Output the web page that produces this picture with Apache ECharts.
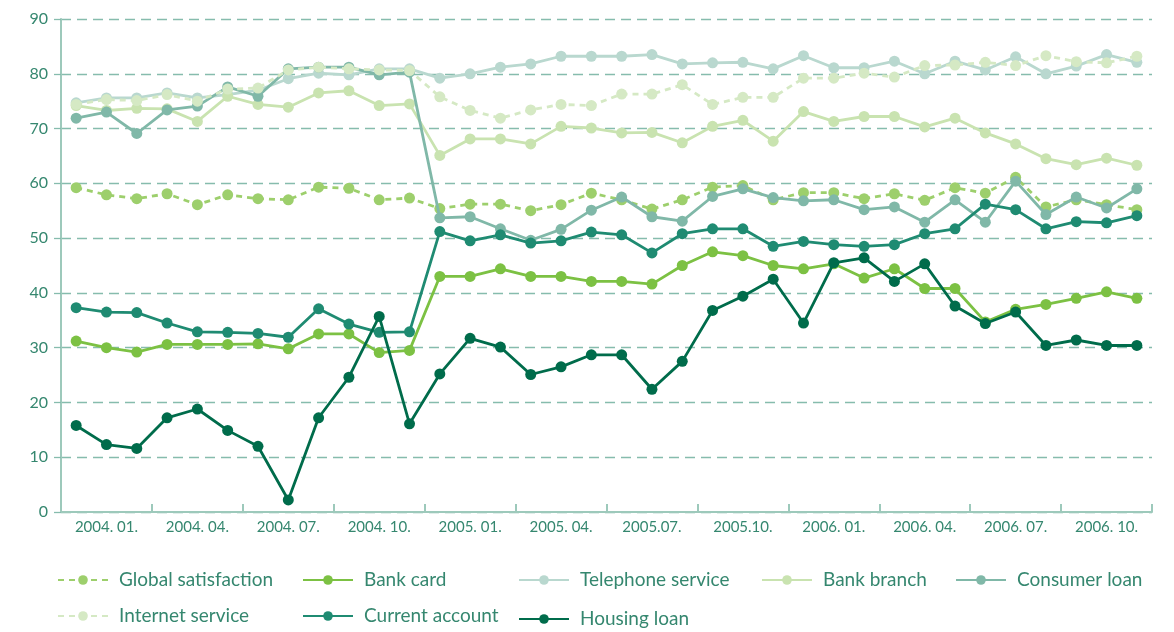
<!DOCTYPE html>
<html>
<head>
<meta charset="utf-8">
<script src="https://cdn.jsdelivr.net/npm/echarts@6/dist/echarts.min.js"></script>
<style>
html,body{margin:0;padding:0;background:#fff;}
#chart{width:1174px;height:632px;}
</style>
</head>
<body>
<div id="chart"></div>
<script>
const months = [
  '2004.01','2004.02','2004.03','2004.04','2004.05','2004.06','2004.07','2004.08','2004.09','2004.10','2004.11','2004.12',
  '2005.01','2005.02','2005.03','2005.04','2005.05','2005.06','2005.07','2005.08','2005.09','2005.10','2005.11','2005.12',
  '2006.01','2006.02','2006.03','2006.04','2006.05','2006.06','2006.07','2006.08','2006.09','2006.10','2006.11','2006.12'
];
const tickLabels = ['2004. 01.','2004. 04.','2004. 07.','2004. 10.','2005. 01.','2005. 04.','2005.07.','2005.10.','2006. 01.','2006. 04.','2006. 07.','2006. 10.'];

const globalSatisfaction = [59.2,57.9,57.2,58.1,56.1,57.9,57.2,57.0,59.3,59.1,57.0,57.3,55.4,56.2,56.2,55.0,56.1,58.2,57.0,55.3,57.0,59.3,59.6,57.0,58.3,58.3,57.2,58.1,56.9,59.2,58.2,61.1,55.7,57.0,56.1,55.2];
const bankCard = [31.2,30.0,29.2,30.6,30.6,30.6,30.7,29.8,32.5,32.5,29.1,29.5,43.0,43.0,44.4,43.0,43.0,42.1,42.1,41.6,45.0,47.5,46.8,45.0,44.4,45.3,42.7,44.4,40.8,40.8,34.7,37.0,37.9,39.0,40.2,39.0];
const telephoneService = [74.7,75.6,75.6,76.5,75.6,76.2,77.0,79.1,80.1,79.8,80.9,80.9,79.2,80.0,81.2,81.8,83.2,83.2,83.2,83.5,81.8,82.0,82.1,80.9,83.3,81.1,81.1,82.3,80.0,82.3,80.7,83.1,80.0,81.4,83.5,82.1];
const bankBranch = [74.2,73.3,73.7,73.6,71.3,75.9,74.4,73.9,76.5,76.9,74.2,74.5,65.1,68.1,68.1,67.2,70.4,70.1,69.2,69.3,67.4,70.4,71.5,67.7,73.1,71.3,72.2,72.2,70.3,71.9,69.2,67.2,64.5,63.4,64.6,63.3];
const consumerLoan = [71.9,73.0,69.1,73.4,74.1,77.6,75.9,80.9,81.2,81.2,79.8,80.3,53.7,53.9,51.7,49.6,51.6,55.1,57.5,53.9,53.1,57.6,59.0,57.4,56.8,57.0,55.2,55.7,52.9,57.0,52.9,60.4,54.3,57.5,55.5,59.0];
const internetService = [74.4,75.3,75.1,76.2,75.0,77.2,77.4,80.7,81.2,80.9,80.7,80.6,75.8,73.3,71.9,73.4,74.4,74.2,76.3,76.3,78.0,74.4,75.7,75.7,79.2,79.2,80.1,79.4,81.5,81.6,82.1,81.5,83.3,82.2,82.0,83.2];
const currentAccount = [37.3,36.5,36.4,34.5,32.9,32.8,32.6,31.9,37.1,34.3,32.8,32.9,51.2,49.5,50.6,49.1,49.5,51.1,50.6,47.3,50.8,51.7,51.7,48.5,49.4,48.8,48.5,48.8,50.8,51.7,56.2,55.2,51.7,53.0,52.8,54.1];
const housingLoan = [15.8,12.3,11.6,17.2,18.8,14.9,12.0,2.2,17.2,24.6,35.7,16.1,25.2,31.7,30.1,25.1,26.5,28.7,28.7,22.4,27.5,36.8,39.4,42.5,34.5,45.5,46.4,42.1,45.3,37.6,34.4,36.5,30.4,31.4,30.4,30.4];

const seriesNames = ['Global satisfaction','Bank card','Telephone service','Bank branch','Consumer loan','Internet service','Current account','Housing loan'];
const seriesData = [globalSatisfaction,bankCard,telephoneService,bankBranch,consumerLoan,internetService,currentAccount,housingLoan];
const seriesColors = ['#9dcf6c','#7cc143','#b9d8cf','#c9e3b0','#80b8a8','#d5e9c4','#1f8b72','#006c4b'];
const seriesDashed = [true,false,false,false,false,true,false,false];

const textColor = '#35876f';
const axisColor = '#9dc9bb';
const gridColor = '#86bcad';
const FONT = 'Lato';

const series = seriesNames.map((name, i) => ({
  name: name,
  type: 'line',
  data: seriesData[i],
  symbol: 'circle',
  symbolSize: 11,
  color: seriesColors[i],
  lineStyle: { width: 2.8, color: seriesColors[i], type: seriesDashed[i] ? [6, 5] : 'solid' },
  itemStyle: { color: seriesColors[i] },
  emphasis: { disabled: true },
  animation: false,
  z: 2 + i
}));

// legend layout: [left, centerY] per series
const legendPos = [[57,580],[302,580],[518,580],[761,580],[955,580],[57,616],[302,616],[518,619]];

function legendItem(name, pos) {
  return {
    orient: 'horizontal',
    left: pos[0],
    top: pos[1] - 11,
    padding: 0,
    itemWidth: 50,
    itemHeight: 12,
    itemGap: 0,
    data: [name],
    selectedMode: false,
    textStyle: { color: textColor, fontFamily: FONT, fontSize: 19, lineHeight: 22, padding: [0, 0, 0, 6] }
  };
}

const chart = echarts.init(document.getElementById('chart'), null, { renderer: 'canvas' });
chart.setOption({
  backgroundColor: '#ffffff',
  animation: false,
  grid: { left: 61, right: 22, top: 19, bottom: 120, containLabel: false },
  legend: seriesNames.map((n, i) => legendItem(n, legendPos[i])),
  xAxis: {
    type: 'category',
    data: months,
    boundaryGap: true,
    axisLine: { show: true, lineStyle: { color: axisColor, width: 2 } },
    axisTick: { show: true, inside: true, length: 8, interval: (i) => i % 3 === 0, lineStyle: { color: axisColor, width: 2 } },
    axisLabel: {
      interval: (i) => i % 3 === 1,
      formatter: (v, i) => tickLabels[Math.floor(i / 3)],
      color: textColor, fontFamily: FONT, fontSize: 15, margin: 8
    },
    splitLine: { show: false }
  },
  yAxis: {
    type: 'value',
    min: 0, max: 90, interval: 10,
    axisLine: { show: true, lineStyle: { color: axisColor, width: 2 } },
    axisTick: { show: true, length: 7, lineStyle: { color: gridColor, width: 1.3 } },
    axisLabel: { color: textColor, fontFamily: FONT, fontSize: 16, margin: 13 },
    splitLine: { show: true, lineStyle: { color: gridColor, width: 1.3, type: [10, 6] } }
  },
  series: series
});
</script>
</body>
</html>
